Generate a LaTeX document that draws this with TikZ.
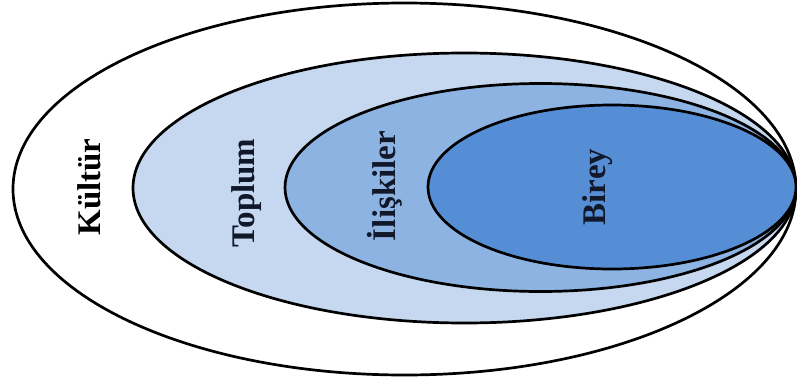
\documentclass[tikz,border=0pt]{standalone}
\usepackage{fontspec}
\setmainfont{Liberation Serif}
\definecolor{cToplum}{HTML}{C6D8EF}
\definecolor{cIliski}{HTML}{8DB3E2}
\definecolor{cBirey}{HTML}{568ED6}
\definecolor{tDark}{HTML}{10182A}
\tikzset{
  ring/.style={draw=black, line width=2.7pt},
  lbl/.style={rotate=90, font=\fontsize{33}{36}\selectfont\bfseries, inner sep=0pt}
}
\begin{document}
\begin{tikzpicture}[x=1pt,y=-1pt]
\useasboundingbox (0,0) rectangle (797,383);
\fill[white] (0,0) rectangle (797,383);
\draw[ring, fill=white] (404.5,189) ellipse [x radius=391.5, y radius=186];
\draw[ring, fill=cToplum] (464.5,188) ellipse [x radius=331.5, y radius=135];
\draw[ring, fill=cIliski] (540.5,187.5) ellipse [x radius=255.5, y radius=104];
\draw[ring, fill=cBirey] (612,187) ellipse [x radius=184, y radius=82];
\node[lbl, text=black] (kultur) at (89,187) {Kültür};
\node[lbl, text=tDark] (toplum) at (247,193) {Toplum};
\node[lbl, text=tDark] (iliskiler) at (385,186) {İlişkiler};
\node[lbl, text=tDark] (birey) at (598,187) {Birey};
\end{tikzpicture}
\end{document}
